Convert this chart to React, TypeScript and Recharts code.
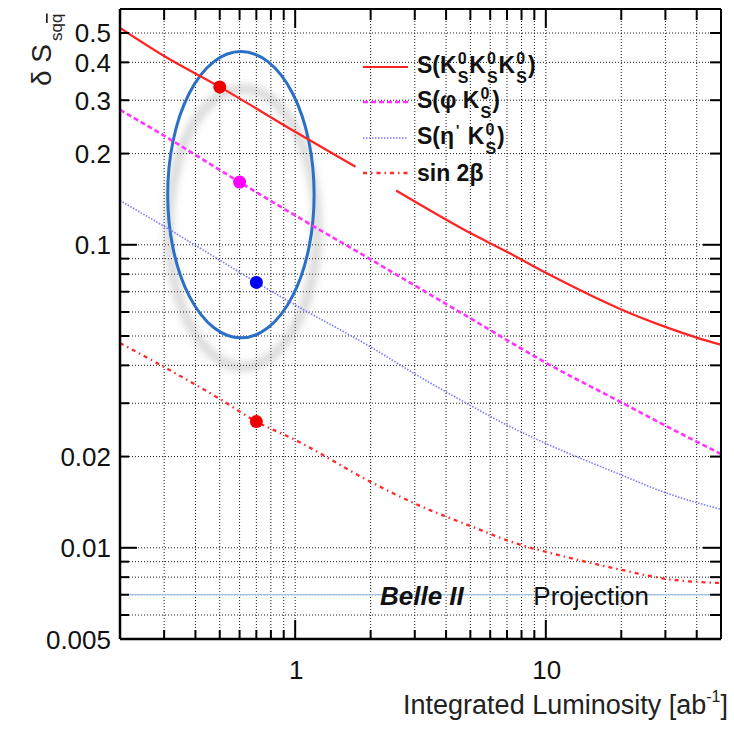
import React from 'react';
import {
  ComposedChart,
  Line,
  Scatter,
  Cell,
  XAxis,
  YAxis,
  CartesianGrid,
  ReferenceLine,
  ReferenceArea,
  ReferenceDot,
  Legend,
} from 'recharts';

const FONT = '"Liberation Sans", Arial, Helvetica, sans-serif';

// axis ticks (log scales)
const xTicks = [0.2, 0.3, 0.4, 0.5, 0.6, 0.7, 0.8, 0.9, 1, 2, 3, 4, 5, 6, 7, 8, 9, 10, 20, 30, 40, 50];
const xLabeled = [1, 10];
const xLong = [1, 10];
const yTicks = [
  0.005, 0.006, 0.007, 0.008, 0.009, 0.01, 0.02, 0.03, 0.04, 0.05, 0.06, 0.07, 0.08, 0.09, 0.1, 0.2, 0.3,
  0.4, 0.5,
];
const yLabeled = [0.005, 0.01, 0.02, 0.1, 0.2, 0.3, 0.4, 0.5];
const yLong = [0.01, 0.1];

// S(Ks Ks Ks) - hidden behind the legend box between ~1.7 and ~2.5
const ksksksLumi = [0.2, 0.3, 0.5, 1, 1.74, 2, 2.53, 3, 5, 7, 10, 15, 20, 30, 40, 50];
const ksksksErr = [0.52, 0.42, 0.332, 0.236, 0.181, null, 0.151, 0.139, 0.1093, 0.0948, 0.0808, 0.0683, 0.0612, 0.0536, 0.0494, 0.0468];

// S(phi Ks)
const phiksLumi = [0.2, 0.3, 0.6, 1, 2, 3, 5, 10, 20, 30, 50];
const phiksErr = [0.279, 0.229, 0.161, 0.125, 0.0895, 0.0734, 0.0572, 0.0408, 0.0302, 0.0253, 0.0204];

// S(eta' Ks)
const etaksLumi = [0.2, 0.3, 0.5, 0.7, 1, 2, 3, 5, 7, 10, 20, 30, 50];
const etaksErr = [0.14, 0.115, 0.089, 0.0751, 0.0633, 0.046, 0.0375, 0.0295, 0.0254, 0.0221, 0.0174, 0.0152, 0.0134];

// sin 2beta
const sin2bLumi = [0.2, 0.3, 0.5, 0.7, 1, 2, 3, 5, 8, 10, 20, 30, 50];
const sin2bErr = [0.0474, 0.0395, 0.031, 0.0261, 0.0227, 0.0165, 0.014, 0.0118, 0.0102, 0.0097, 0.00846, 0.0079, 0.00765];

// Belle measurements (dots)
const dotLumi = [0.5, 0.6, 0.7, 0.7];
const dotErr = [0.332, 0.161, 0.0751, 0.0261];
const dotColors = ['#ee0000', '#ff00ff', '#0000ee', '#ee0000'];

// highlighted region
const ellipseLumi = [0.31, 1.19];
const ellipseErr = [0.0493, 0.434];

const legendOrder = ['ksksks', 'phiks', 'etaks', 'sin2b'];

const zip = (xs: number[], ys: (number | null)[]) => xs.map((x, i) => ({ x, y: ys[i] }));

const Stack = ({ sup, sub }: { sup: string; sub: string }) => (
  <span
    style={{
      display: 'inline-flex',
      flexDirection: 'column',
      fontSize: 16,
      lineHeight: '19px',
      verticalAlign: 'middle',
      margin: '0 1px',
      position: 'relative',
      top: 1,
    }}
  >
    <span>{sup}</span>
    <span>{sub}</span>
  </span>
);

const legendText: Record<string, React.ReactNode> = {
  ksksks: (
    <>
      S(K<Stack sup="0" sub="S" />K<Stack sup="0" sub="S" />K<Stack sup="0" sub="S" />)
    </>
  ),
  phiks: (
    <>
      S(φ K<Stack sup="0" sub="S" />)
    </>
  ),
  etaks: (
    <>
      S(η<span style={{ position: 'relative', top: -9, fontSize: 14, margin: '0 2px' }}>'</span> K
      <Stack sup="0" sub="S" />)
    </>
  ),
  sin2b: <>sin 2β</>,
};

const LegendBox = ({ payload }: any) => {
  const items = (payload || [])
    .filter((e: any) => legendOrder.includes(e.value))
    .sort((a: any, b: any) => legendOrder.indexOf(a.value) - legendOrder.indexOf(b.value));
  return (
    <div style={{ fontFamily: FONT, fontWeight: 'bold', fontSize: 23, color: '#111' }}>
      {items.map((entry: any) => {
        const p = entry.payload || {};
        return (
          <div key={entry.value} style={{ display: 'flex', alignItems: 'center', height: 35.5 }}>
            <svg width={55} height={20}>
              <line
                x1={5}
                y1={10}
                x2={50}
                y2={10}
                stroke={entry.color}
                strokeWidth={p.strokeWidth || 2}
                strokeDasharray={p.strokeDasharray}
              />
            </svg>
            <div style={{ marginLeft: 4, whiteSpace: 'nowrap' }}>{legendText[entry.value]}</div>
          </div>
        );
      })}
    </div>
  );
};

const LeftTick = ({ x, y, payload }: any) => {
  const v = payload.value;
  const len = yLong.includes(v) ? 17 : 9;
  return (
    <g>
      <line x1={x} y1={y} x2={x + len} y2={y} stroke="#000" strokeWidth={2} />
      {yLabeled.includes(v) && (
        <text x={x - 9} y={y + 9.5} textAnchor="end" fontSize={26} fontFamily={FONT} fill="#111">
          {String(v)}
        </text>
      )}
    </g>
  );
};

const RightTick = ({ x, y, payload }: any) => {
  const len = yLong.includes(payload.value) ? 18 : 11;
  return <line x1={x} y1={y} x2={x - len} y2={y} stroke="#000" strokeWidth={2} />;
};

const BottomTick = ({ x, y, payload }: any) => {
  const v = payload.value;
  const len = xLong.includes(v) ? 19 : 9;
  return (
    <g>
      <line x1={x} y1={y} x2={x} y2={y - len} stroke="#000" strokeWidth={2} />
      {xLabeled.includes(v) && (
        <text x={x + 1} y={y + 40} textAnchor="middle" fontSize={26} fontFamily={FONT} fill="#111">
          {String(v)}
        </text>
      )}
    </g>
  );
};

const TopTick = ({ x, y, payload }: any) => {
  const len = xLong.includes(payload.value) ? 19 : 11;
  return <line x1={x} y1={y} x2={x} y2={y + len} stroke="#000" strokeWidth={2} />;
};

const XTitle = ({ viewBox }: any) => {
  const vb = viewBox || { x: 120, y: 639, width: 601, height: 95 };
  return (
    <text x={vb.x + vb.width + 7} y={vb.y + 75} textAnchor="end" fontSize={27} fontFamily={FONT} fill="#222">
      Integrated Luminosity [ab
      <tspan fontSize={16} dy={-12}>
        -1
      </tspan>
      <tspan dy={12}>]</tspan>
    </text>
  );
};

const YTitle = ({ viewBox }: any) => {
  const vb = viewBox || { x: 0, y: 9 };
  const tx = vb.x + 51;
  const ty = vb.y + 77;
  return (
    <text x={tx} y={ty} transform={`rotate(-90 ${tx} ${ty})`} fontSize={28} fontFamily={FONT} fill="#222">
      δ S
      <tspan fontSize={17} dy={11} dx={3}>
        sq
      </tspan>
      <tspan fontSize={17} style={{ textDecoration: 'overline' }}>
        q
      </tspan>
    </text>
  );
};

const EllipseShape = ({ x, y, width, height }: any) => {
  const cx = x + width / 2;
  const cy = y + height / 2;
  return (
    <g>
      <defs>
        <filter id="halo" x="-40%" y="-40%" width="180%" height="180%">
          <feGaussianBlur stdDeviation="4" />
        </filter>
      </defs>
      <ellipse
        cx={cx + 2}
        cy={cy + 33}
        rx={width / 2 + 1}
        ry={height / 2 - 4}
        fill="none"
        stroke="#777"
        strokeWidth={7}
        opacity={0.38}
        filter="url(#halo)"
      />
      <ellipse cx={cx} cy={cy} rx={width / 2} ry={height / 2} fill="none" stroke="#2b6fc6" strokeWidth={3} />
    </g>
  );
};

const TextMark = ({ viewBox, text, bold }: any) => (
  <text
    x={viewBox.x}
    y={viewBox.y + 11}
    fontSize={26}
    fontFamily={FONT}
    fontWeight={bold ? 'bold' : 'normal'}
    fontStyle={bold ? 'italic' : 'normal'}
    fill="#111"
  >
    {text}
  </text>
);

export default function App() {
  const dots = zip(dotLumi, dotErr);
  return (
    <div style={{ position: 'absolute', left: 0, top: 0, width: 734, height: 735, background: '#fff' }}>
      <ComposedChart width={734} height={735} margin={{ top: 8, right: 12, bottom: 1, left: 0 }}>
        <CartesianGrid stroke="#1a1a1a" strokeDasharray="1 2" strokeWidth={1} />
        <XAxis
          dataKey="x"
          type="number"
          scale="log"
          domain={[0.2, 50]}
          allowDataOverflow
          ticks={xTicks}
          interval={0}
          height={95}
          tickSize={0}
          tickMargin={0}
          tickLine={false}
          axisLine={{ stroke: '#000', strokeWidth: 2.5 }}
          tick={(p: any) => <BottomTick {...p} />}
          label={<XTitle />}
        />
        <XAxis
          xAxisId="top"
          orientation="top"
          dataKey="x"
          type="number"
          scale="log"
          domain={[0.2, 50]}
          allowDataOverflow
          ticks={xTicks}
          interval={0}
          height={1}
          tickSize={0}
          tickMargin={0}
          tickLine={false}
          axisLine={{ stroke: '#000', strokeWidth: 2 }}
          tick={(p: any) => <TopTick {...p} />}
        />
        <YAxis
          dataKey="y"
          type="number"
          scale="log"
          domain={[0.005, 0.6]}
          allowDataOverflow
          ticks={yTicks}
          interval={0}
          width={120}
          tickSize={0}
          tickMargin={0}
          tickLine={false}
          axisLine={{ stroke: '#000', strokeWidth: 2.5 }}
          tick={(p: any) => <LeftTick {...p} />}
          label={<YTitle />}
        />
        <YAxis
          yAxisId="right"
          orientation="right"
          type="number"
          scale="log"
          domain={[0.005, 0.6]}
          allowDataOverflow
          ticks={yTicks}
          interval={0}
          width={1}
          tickSize={0}
          tickMargin={0}
          tickLine={false}
          axisLine={{ stroke: '#000', strokeWidth: 2 }}
          tick={(p: any) => <RightTick {...p} />}
        />
        <ReferenceLine y={0.007} stroke="#9cc3e6" strokeWidth={1.3} />
        <Line
          name="ksksks"
          data={zip(ksksksLumi, ksksksErr)}
          dataKey="y"
          type="monotone"
          stroke="#ff2222"
          strokeWidth={2.2}
          dot={false}
          activeDot={false}
          connectNulls={false}
          isAnimationActive={false}
        />
        <Line
          name="phiks"
          data={zip(phiksLumi, phiksErr)}
          dataKey="y"
          type="monotone"
          stroke="#ff33ff"
          strokeWidth={2.6}
          strokeDasharray="5 3"
          dot={false}
          activeDot={false}
          isAnimationActive={false}
        />
        <Line
          name="etaks"
          data={zip(etaksLumi, etaksErr)}
          dataKey="y"
          type="monotone"
          stroke="#7a7aff"
          strokeWidth={1.6}
          strokeDasharray="1.5 1.5"
          dot={false}
          activeDot={false}
          isAnimationActive={false}
        />
        <Line
          name="sin2b"
          data={zip(sin2bLumi, sin2bErr)}
          dataKey="y"
          type="monotone"
          stroke="#ff2a2a"
          strokeWidth={2.3}
          strokeDasharray="4 4 1.5 4"
          dot={false}
          activeDot={false}
          isAnimationActive={false}
        />
        <ReferenceArea
          x1={ellipseLumi[0]}
          x2={ellipseLumi[1]}
          y1={ellipseErr[0]}
          y2={ellipseErr[1]}
          shape={(p: any) => <EllipseShape {...p} />}
        />
        <Scatter
          data={dots}
          legendType="none"
          isAnimationActive={false}
          shape={(p: any) => <circle cx={p.cx} cy={p.cy} r={6.5} fill={p.fill} />}
        >
          {dots.map((d, i) => (
            <Cell key={i} fill={dotColors[i]} />
          ))}
        </Scatter>
        <ReferenceDot x={2.2} y={0.007} r={1} fill="none" stroke="none" label={<TextMark text="Belle II" bold />} />
        <ReferenceDot x={9} y={0.007} r={1} fill="none" stroke="none" label={<TextMark text="Projection" />} />
        <Legend
          layout="vertical"
          align="center"
          verticalAlign="middle"
          content={(p: any) => <LegendBox {...p} />}
          wrapperStyle={{ left: 358, top: 49, width: 'auto', height: 'auto' }}
        />
      </ComposedChart>
    </div>
  );
}
